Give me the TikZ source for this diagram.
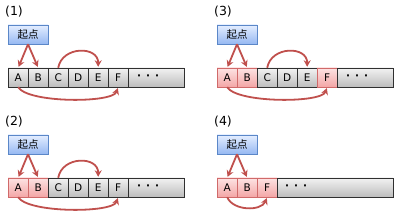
\documentclass[tikz,border=0pt]{standalone}
\usepackage{fontspec}
\setmainfont{DejaVu Sans}
\newfontfamily\cjk{Noto Sans CJK JP}
\usetikzlibrary{arrows.meta}
\definecolor{arrred}{HTML}{C0504D}
\definecolor{plainline}{HTML}{303030}
\definecolor{plaintop}{HTML}{F2F2F2}
\definecolor{plainbot}{HTML}{BDBDBD}
\definecolor{hitline}{HTML}{D06A6A}
\definecolor{hittop}{HTML}{FDE3E3}
\definecolor{hitbot}{HTML}{F3A6A6}
\definecolor{startline}{HTML}{5B87C8}
\definecolor{starttop}{HTML}{E4EEFF}
\definecolor{startbot}{HTML}{96B8F2}
\begin{document}
\begin{tikzpicture}[x=1pt, y=1pt,
  cell/.style={rectangle, draw=#1line, top color=#1top, bottom color=#1bot,
    minimum width=20pt, minimum height=19pt, inner sep=0pt, anchor=west,
    font=\fontsize{10.5}{12}\selectfont},
  rest/.style={cell=plain, minimum width=#1, align=left},
  start/.style={rectangle, draw=startline, top color=starttop, bottom color=startbot,
    minimum width=40pt, minimum height=19pt, inner sep=0pt,
    font=\cjk\fontsize{10.5}{12}\selectfont},
  lbl/.style={font=\fontsize{12.5}{15}\selectfont},
  arr/.style={-{Stealth[length=6.5pt,width=7pt]}, line width=1.8pt, arrred, shorten >=1pt}
]
\useasboundingbox (0,0) rectangle (400,220);
\newcommand{\dotsrow}{\textbf{\textperiodcentered\hspace{5pt}\textperiodcentered\hspace{5pt}\textperiodcentered}}

% (1)
\node[lbl] (lbl1) at (14,208) {(1)};
\node[start] (s1) at (28,185.5) {起点};
\foreach \t/\k [count=\i] in {A/plain,B/plain,C/plain,D/plain,E/plain,F/plain}
  \node[cell=\k] (p1\t) at ({\i*20-12},142.5) {\t};
\node[rest=56pt, inner xsep=9pt, text width=38pt] (p1x) at (128,142.5) {\dotsrow};
\draw[arr] (s1.south) -- (p1A.north);
\draw[arr] (s1.south) -- (p1B.north);
\draw[arr] (p1C.north) .. controls +(4,22) and +(0,22) .. (p1E.north);
\draw[arr] (p1A.south) .. controls +(10,-16) and +(-6,-16) .. (p1F.south);

% (2)
\begin{scope}[yshift=-110pt]
\node[lbl] (lbl2) at (14,208) {(2)};
\node[start] (s2) at (28,185.5) {起点};
\foreach \t/\k [count=\i] in {A/hit,B/hit,C/plain,D/plain,E/plain,F/plain}
  \node[cell=\k] (p2\t) at ({\i*20-12},142.5) {\t};
\node[rest=56pt, inner xsep=9pt, text width=38pt] (p2x) at (128,142.5) {\dotsrow};
\draw[arr] (s2.south) -- (p2A.north);
\draw[arr] (s2.south) -- (p2B.north);
\draw[arr] (p2C.north) .. controls +(4,22) and +(0,22) .. (p2E.north);
\draw[arr] (p2A.south) .. controls +(10,-16) and +(-6,-16) .. (p2F.south);
\end{scope}

% (3)
\begin{scope}[xshift=209pt]
\node[lbl] (lbl3) at (14,208) {(3)};
\node[start] (s3) at (28,185.5) {起点};
\foreach \t/\k [count=\i] in {A/hit,B/hit,C/plain,D/plain,E/plain,F/hit}
  \node[cell=\k] (p3\t) at ({\i*20-12},142.5) {\t};
\node[rest=56pt, inner xsep=9pt, text width=38pt] (p3x) at (128,142.5) {\dotsrow};
\draw[arr] (s3.south) -- (p3A.north);
\draw[arr] (s3.south) -- (p3B.north);
\draw[arr] (p3C.north) .. controls +(4,22) and +(0,22) .. (p3E.north);
\draw[arr] (p3A.south) .. controls +(10,-16) and +(-6,-16) .. (p3F.south);
\end{scope}

% (4)
\begin{scope}[xshift=209pt, yshift=-110pt]
\node[lbl] (lbl4) at (14,208) {(4)};
\node[start] (s4) at (28,185.5) {起点};
\foreach \t/\k [count=\i] in {A/hit,B/hit,F/hit}
  \node[cell=\k] (p4\t) at ({\i*20-12},142.5) {\t};
\node[rest=116pt, inner xsep=8pt, text width=100pt] (p4x) at (68,142.5) {\dotsrow};
\draw[arr] (s4.south) -- (p4A.north);
\draw[arr] (s4.south) -- (p4B.north);
\draw[arr] (p4A.south) .. controls +(6,-14) and +(-6,-14) .. (p4F.south);
\end{scope}
\end{tikzpicture}
\end{document}
